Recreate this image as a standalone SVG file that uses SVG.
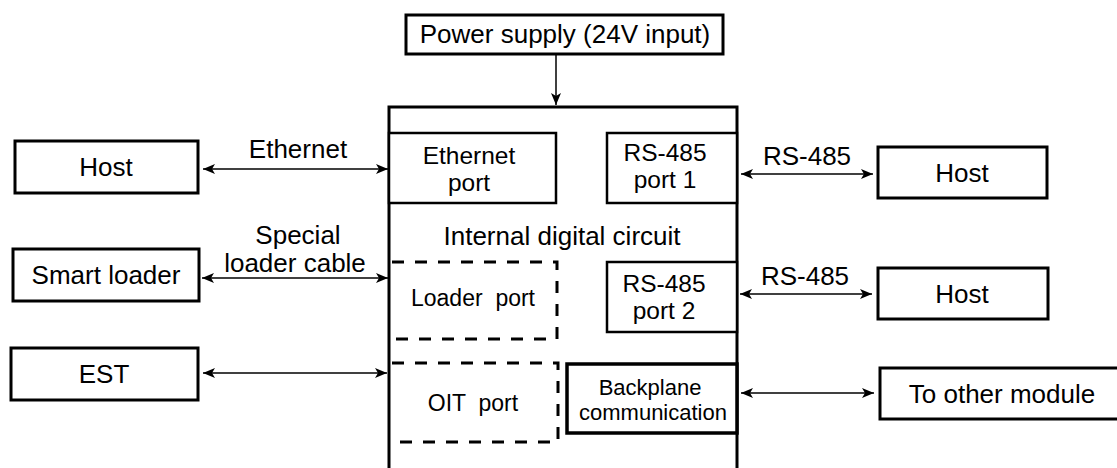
<svg xmlns="http://www.w3.org/2000/svg" width="1117" height="468" viewBox="0 0 1117 468">
<style>
  text { font-family: "Liberation Sans", Arial, sans-serif; font-size: 26px; fill: #000; text-anchor: middle; }
  .two { font-size: 24.5px; }
  .sm { font-size: 23px; white-space: pre; }
  .bp { font-size: 22px; }
  .box { fill: #fff; stroke: #000; stroke-width: 3; }
  .inner { fill: #fff; stroke: #000; stroke-width: 2.5; }
  .thick { fill: #fff; stroke: #000; stroke-width: 3.5; }
  .dash { fill: none; stroke: #000; stroke-width: 3; stroke-dasharray: 12 11; }
  .conn { fill: none; stroke: #000; stroke-width: 1.5; }
  .bi { marker-start: url(#ah); marker-end: url(#ah); }
  .uni { marker-end: url(#ah); }
</style>
<defs>
  <marker id="ah" viewBox="0 0 12 10" refX="12" refY="5" markerWidth="12" markerHeight="10" markerUnits="userSpaceOnUse" orient="auto-start-reverse">
    <path d="M0,0 L12,5 L0,10 L3,5 z" fill="#000"/>
  </marker>
</defs>
<rect width="1117" height="468" fill="#fff"/>

<g id="power">
  <rect class="box" x="406" y="15" width="317" height="39"/>
  <text x="565" y="43">Power supply (24V input)</text>
</g>

<g id="module">
  <rect class="box" x="389" y="107" width="348" height="400"/>
  <text x="562" y="245">Internal digital circuit</text>
</g>

<g id="ethernet-port">
  <rect class="inner" x="389" y="133" width="167" height="70"/>
  <text class="two" x="469" y="164">Ethernet</text>
  <text class="two" x="469" y="191">port</text>
</g>

<g id="rs485-port1">
  <rect class="inner" x="607" y="133" width="130" height="70"/>
  <text class="two" x="665" y="161">RS-485</text>
  <text class="two" x="665" y="188">port 1</text>
</g>

<g id="loader-port">
  <path class="dash" d="M392,262 H557 V339 H392"/>
  <text class="sm" x="473" y="306">Loader  port</text>
</g>

<g id="rs485-port2">
  <rect class="inner" x="607" y="262" width="130" height="70"/>
  <text class="two" x="664" y="292">RS-485</text>
  <text class="two" x="664" y="319">port 2</text>
</g>

<g id="oit-port">
  <path class="dash" d="M392,363 H558 V442 H392"/>
  <text class="sm" x="473" y="411">OIT  port</text>
</g>

<g id="backplane">
  <rect class="thick" x="567" y="364" width="170" height="69"/>
  <text class="bp" x="650" y="395">Backplane</text>
  <text class="bp" x="653" y="420">communication</text>
</g>

<g id="host-eth">
  <rect class="box" x="15" y="141" width="183" height="52"/>
  <text x="106" y="176">Host</text>
</g>

<g id="smart-loader">
  <rect class="box" x="13" y="249" width="186" height="52"/>
  <text x="106" y="284">Smart loader</text>
</g>

<g id="est">
  <rect class="box" x="11" y="348" width="187" height="52"/>
  <text x="104" y="383">EST</text>
</g>

<g id="host-rs1">
  <rect class="box" x="878" y="147" width="169" height="51"/>
  <text x="962" y="182">Host</text>
</g>

<g id="host-rs2">
  <rect class="box" x="878" y="268" width="170" height="51"/>
  <text x="962" y="303">Host</text>
</g>

<g id="other-module">
  <rect class="box" x="880" y="368" width="250" height="51"/>
  <text x="1002" y="403">To other module</text>
</g>

<g id="connectors">
  <line class="conn uni" x1="556" y1="54" x2="556" y2="105"/>
  <line class="conn bi" x1="203" y1="169" x2="388" y2="169"/>
  <text x="298" y="158">Ethernet</text>
  <line class="conn bi" x1="202" y1="278" x2="388" y2="278"/>
  <text x="298" y="244">Special</text>
  <text x="295" y="272">loader cable</text>
  <line class="conn bi" x1="203" y1="373" x2="387" y2="373"/>
  <line class="conn bi" x1="741" y1="174" x2="873" y2="174"/>
  <text x="807" y="165">RS-485</text>
  <line class="conn bi" x1="740" y1="294" x2="872" y2="294"/>
  <text x="805" y="285">RS-485</text>
  <line class="conn bi" x1="741" y1="393" x2="874" y2="393"/>
</g>
</svg>
